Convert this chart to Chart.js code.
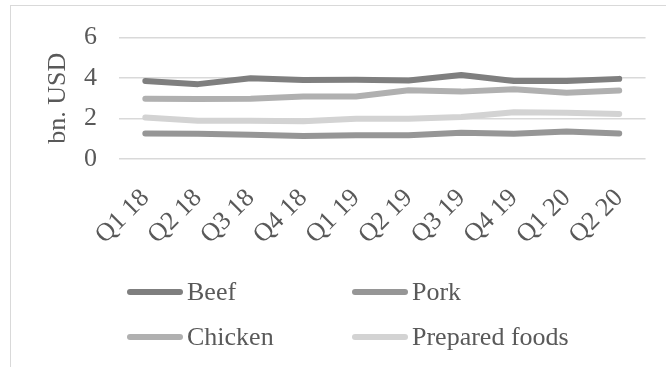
<!DOCTYPE html>
<html>
<head>
<meta charset="utf-8">
<script src="https://cdn.jsdelivr.net/npm/chart.js@4/dist/chart.umd.min.js"></script>
<style>
  html, body { margin: 0; padding: 0; background: #fff; }
  body { width: 666px; height: 367px; position: relative; overflow: hidden; font-family: "Liberation Serif", "Times New Roman", serif; }
  #frame { position: absolute; left: 10px; top: 5px; width: 700px; height: 400px; border: 1.5px solid #d9d9d9; box-sizing: border-box; }
  #wrap { position: absolute; left: 0; top: 0; width: 666px; height: 262px; }
  #legend { position: absolute; left: 0; top: 0; width: 666px; height: 367px; pointer-events: none; }
  .item { position: absolute; display: flex; align-items: center; height: 30px; color: #595959; font-size: 26px; white-space: nowrap; }
  .sw { width: 56px; height: 6px; border-radius: 3px; margin-right: 4px; }
</style>
</head>
<body>
<div id="frame"></div>
<div id="wrap"><canvas id="c"></canvas></div>
<div id="legend"></div>
<script>
const categories = ["Q1 18","Q2 18","Q3 18","Q4 18","Q1 19","Q2 19","Q3 19","Q4 19","Q1 20","Q2 20"];
const beef     = [3.86, 3.70, 3.99, 3.91, 3.92, 3.88, 4.15, 3.85, 3.85, 3.96];
const pork     = [1.26, 1.25, 1.20, 1.14, 1.17, 1.17, 1.30, 1.25, 1.36, 1.26];
const chicken  = [2.98, 2.96, 2.98, 3.09, 3.09, 3.40, 3.33, 3.45, 3.28, 3.38];
const prepared = [2.05, 1.89, 1.89, 1.86, 1.99, 1.99, 2.08, 2.31, 2.29, 2.23];
const seriesNames = ["Beef","Pork","Chicken","Prepared foods"];
const yTicks = [0, 2, 4, 6];
const colors = ["#7f7f7f","#969696","#b0b0b0","#d3d3d3"];

const FONT = "'Liberation Serif', 'Times New Roman', serif";
const mk = (label, data, color) => ({
  label, data, borderColor: color, backgroundColor: color,
  borderWidth: 6, pointRadius: 0, pointHoverRadius: 0, tension: 0,
  borderCapStyle: 'round', borderJoinStyle: 'round', fill: false
});

const datasets = [
  mk(seriesNames[0], beef, colors[0]),
  mk(seriesNames[1], pork, colors[1]),
  mk(seriesNames[2], chicken, colors[2]),
  mk(seriesNames[3], prepared, colors[3])
];

const chart = new Chart(document.getElementById('c'), {
  type: 'line',
  data: { labels: categories, datasets },
  options: {
    responsive: true, maintainAspectRatio: false, animation: false,
    devicePixelRatio: 1,
    layout: { padding: { left: 0, right: 14.5, top: 34, bottom: 0 } },
    plugins: { legend: { display: false }, tooltip: { enabled: false } },
    scales: {
      x: {
        offset: true,
        grid: { display: false, drawTicks: false },
        border: { display: false },
        ticks: { color: '#595959', font: { family: FONT, size: 26 }, maxRotation: 45, minRotation: 45, padding: 24, autoSkip: false },
        afterFit: (s) => { s.height = 103; }
      },
      y: {
        min: 0, max: 6,
        afterBuildTicks: (s) => { s.ticks = yTicks.map(v => ({ value: v })); },
        grid: { color: '#d9d9d9', lineWidth: 1.5, drawTicks: false },
        border: { display: false },
        ticks: { color: '#595959', font: { family: FONT, size: 26 }, padding: 22 },
        title: { display: true, text: 'bn. USD', color: '#595959', font: { family: FONT, size: 26 }, padding: { top: 43, bottom: 0 } },
        afterFit: (s) => { s.width = 119; }
      }
    }
  }
});

// HTML legend (two columns)
const legendPos = [
  { x: 127, y: 292 }, { x: 352, y: 292 },
  { x: 127, y: 337 }, { x: 352, y: 337 }
];
const lg = document.getElementById('legend');
chart.data.datasets.forEach((ds, i) => {
  const it = document.createElement('div');
  it.className = 'item';
  it.style.left = legendPos[i].x + 'px';
  it.style.top = (legendPos[i].y - 15) + 'px';
  const sw = document.createElement('span');
  sw.className = 'sw';
  sw.style.background = ds.borderColor;
  const tx = document.createElement('span');
  tx.textContent = ds.label;
  it.appendChild(sw); it.appendChild(tx);
  lg.appendChild(it);
});
</script>
</body>
</html>
